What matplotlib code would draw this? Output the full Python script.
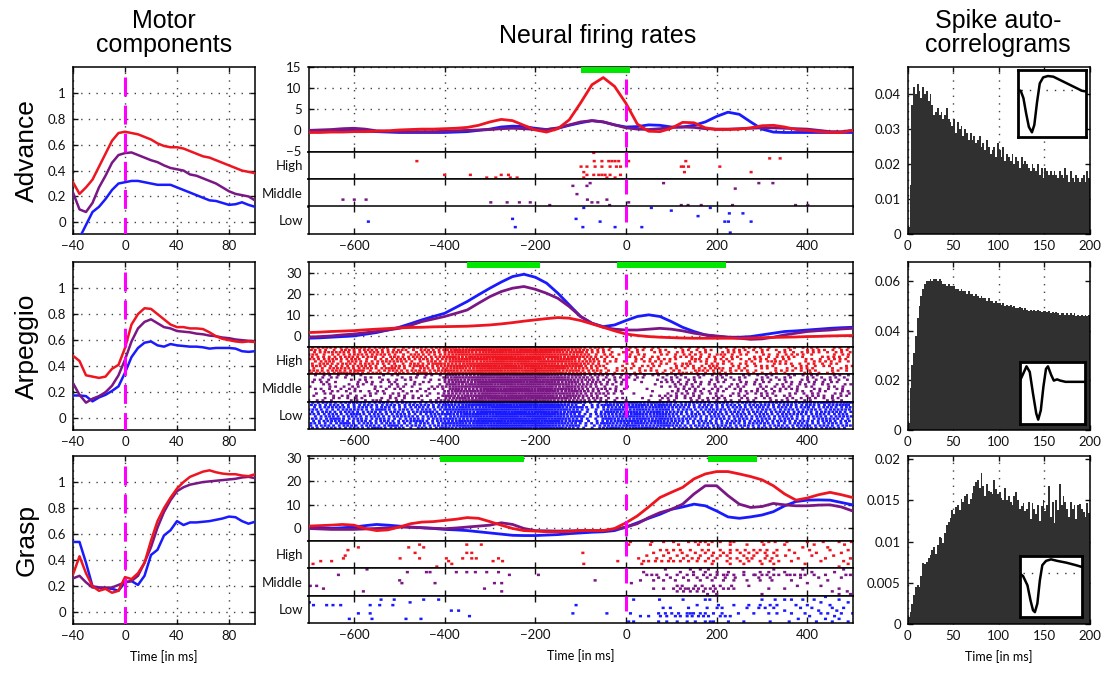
import numpy as np
import matplotlib
matplotlib.use('Agg')
import matplotlib.pyplot as plt
from matplotlib.ticker import FuncFormatter
from matplotlib.transforms import blended_transform_factory
from matplotlib.patches import Rectangle
from matplotlib.collections import LineCollection

# ---------------- data ----------------
ROW_NAMES = ['Advance', 'Arpeggio', 'Grasp']
BAND_NAMES = ['High', 'Middle', 'Low']

# Motor components (x every 5 ms from -40 to 100)
T_MOTOR = np.arange(-40, 101, 5)
MOTOR_RED = [
    [0.31,0.22,0.27,0.33,0.43,0.53,0.63,0.69,0.70,0.69,0.68,0.66,0.64,0.61,0.59,0.58,0.58,0.57,0.55,0.53,0.51,0.50,0.48,0.46,0.44,0.42,0.40,0.39,0.38],
    [0.48,0.44,0.33,0.32,0.31,0.32,0.38,0.41,0.54,0.72,0.80,0.845,0.84,0.80,0.76,0.72,0.70,0.70,0.69,0.69,0.685,0.66,0.63,0.61,0.60,0.59,0.585,0.59,0.585],
    [0.29,0.43,0.30,0.20,0.165,0.18,0.15,0.165,0.27,0.255,0.30,0.38,0.55,0.70,0.80,0.88,0.95,1.00,1.04,1.06,1.08,1.09,1.075,1.065,1.06,1.06,1.05,1.045,1.06],
]
MOTOR_PURPLE = [
    [0.23,0.10,0.08,0.15,0.27,0.36,0.46,0.52,0.535,0.54,0.52,0.50,0.48,0.465,0.44,0.42,0.41,0.40,0.37,0.36,0.34,0.32,0.30,0.27,0.24,0.22,0.21,0.20,0.17],
    [0.27,0.18,0.12,0.15,0.17,0.20,0.25,0.33,0.45,0.59,0.69,0.74,0.76,0.73,0.70,0.69,0.67,0.665,0.66,0.65,0.645,0.635,0.63,0.62,0.615,0.605,0.60,0.595,0.59],
    [0.26,0.28,0.23,0.19,0.19,0.19,0.19,0.21,0.23,0.24,0.28,0.38,0.50,0.65,0.77,0.86,0.93,0.96,0.98,0.99,1.00,1.005,1.01,1.015,1.02,1.025,1.035,1.04,1.03],
]
MOTOR_BLUE = [
    [-0.25,-0.12,-0.02,0.08,0.12,0.18,0.25,0.30,0.31,0.32,0.32,0.31,0.30,0.29,0.29,0.29,0.27,0.25,0.23,0.21,0.19,0.17,0.165,0.15,0.135,0.14,0.155,0.135,0.12],
    [0.175,0.175,0.17,0.13,0.16,0.18,0.21,0.245,0.35,0.47,0.54,0.58,0.59,0.56,0.55,0.57,0.56,0.555,0.55,0.55,0.545,0.535,0.54,0.54,0.54,0.535,0.515,0.51,0.515],
    [0.54,0.54,0.38,0.20,0.19,0.185,0.18,0.165,0.23,0.24,0.21,0.28,0.44,0.48,0.59,0.63,0.70,0.67,0.69,0.69,0.695,0.70,0.71,0.72,0.735,0.73,0.70,0.68,0.695],
]

# Neural firing rates (x every 25 ms from -700 to 500)
T_RATE = np.arange(-700, 501, 25)
RATE_RED = [
    [-0.5,-0.5,-0.4,-0.4,-0.3,-0.3,-0.2,-0.1,0.1,0.2,0.3,0.3,0.4,0.5,0.7,1.2,2.0,2.6,2.3,1.2,0.1,-0.4,0.4,2.5,6.5,10.8,12.5,10.4,6.4,1.5,-0.2,-0.3,0.5,1.9,1.8,0.6,0.2,0.2,0.3,0.6,1.1,1.2,0.8,0.2,0.0,-0.3,-0.5,-0.5,0.0],
    [1.6,1.8,2.1,2.3,2.5,2.9,3.2,3.5,3.8,4.0,4.1,4.3,4.4,4.5,4.6,4.9,5.2,5.7,6.3,7.0,7.6,8.2,8.7,8.4,7.3,5.7,4.1,2.4,0.9,0.2,-0.3,-0.6,-0.8,-1.0,-1.1,-1.1,-1.1,-1.1,-1.1,-1.0,-0.8,-0.7,-0.6,-0.5,-0.3,-0.2,0.0,0.1,0.2],
    [1.0,1.2,1.4,1.7,1.4,0.0,-0.9,-0.6,0.6,2.0,2.7,2.9,3.4,3.9,4.6,4.3,2.9,1.4,0.0,-0.9,-1.1,-1.4,-1.4,-1.3,-0.9,-0.9,-0.9,0.0,2.4,5.3,9.1,13.1,15.3,17.4,21.0,23.1,24.1,24.1,23.1,22.0,20.6,18.1,14.6,12.0,12.9,14.3,15.3,14.3,13.1],
]
RATE_PURPLE = [
    [0.0,0.1,0.2,0.4,0.5,0.3,-0.1,-0.2,-0.3,-0.3,-0.3,-0.3,-0.2,-0.1,0.0,0.1,0.2,0.4,0.5,0.4,0.2,0.2,0.6,1.3,2.0,2.3,2.0,1.3,0.6,0.3,0.2,0.4,0.7,0.8,0.7,0.4,0.3,0.3,0.4,0.5,0.6,0.6,0.5,0.4,0.3,0.0,-0.3,-0.3,0.0],
    [-0.6,-0.3,0.0,0.5,0.9,1.5,2.1,2.8,3.6,5.0,6.8,8.0,9.2,10.7,12.3,15.5,18.6,21.0,22.6,23.4,22.1,20.2,17.8,13.9,9.2,6.0,4.1,3.2,2.8,2.8,3.2,3.6,3.2,2.4,1.3,0.5,0.0,-0.6,-1.1,-1.6,-1.4,-0.6,0.5,1.3,2.1,2.5,2.8,3.3,3.6],
    [0.0,-0.2,-0.4,-0.4,-0.4,-0.2,0.0,0.3,0.6,0.5,0.3,0.1,-0.1,0.2,0.6,1.0,1.4,2.4,1.7,0.0,-0.9,-1.0,-1.1,-1.0,-0.9,-0.9,-0.9,-0.4,0.6,2.0,4.6,6.7,8.1,10.3,14.6,18.1,18.1,13.9,10.3,8.9,9.3,10.6,10.0,9.6,9.6,9.9,10.0,9.1,7.4],
]
RATE_BLUE = [
    [-0.4,-0.2,0.0,0.1,0.0,-0.2,-0.3,-0.4,-0.5,-0.5,-0.5,-0.5,-0.5,-0.4,-0.3,0.0,0.3,0.8,1.0,0.9,0.5,0.2,0.5,1.2,1.8,2.3,2.0,1.3,0.8,0.9,1.3,1.2,0.8,0.8,1.2,2.0,3.3,4.3,3.8,2.0,0.3,-0.4,-0.5,-0.5,-0.5,-0.5,-0.5,-0.5,-0.5],
    [-1.1,-0.9,-0.6,-0.3,0.0,0.8,1.6,2.8,4.1,5.8,7.6,9.2,10.7,13.5,16.3,19.5,22.6,25.5,28.1,29.2,27.8,25.0,20.2,14.7,9.2,6.0,4.4,5.2,7.3,9.2,10.0,9.2,6.8,4.1,2.1,0.5,-0.3,-0.6,-0.6,-0.3,0.5,1.3,2.1,2.4,2.8,3.2,3.6,3.9,4.1],
    [0.6,0.3,0.0,0.3,0.6,1.2,1.7,1.4,1.0,0.6,0.3,0.0,-0.4,-0.6,-0.9,-1.4,-1.9,-2.4,-2.9,-3.0,-3.0,-2.8,-2.6,-2.2,-1.9,-1.6,-1.4,-0.9,0.6,2.4,4.3,6.0,8.1,9.1,10.3,9.6,7.4,4.9,4.3,4.9,5.7,7.1,9.6,11.4,12.0,12.1,12.0,11.0,10.0],
]
RATE_YLIM = [(-5, 15), (-5, 35), (-5.1, 30.7)]
RATE_YTICKS = [[-5, 0, 5, 10, 15], [0, 10, 20, 30], [0, 10, 20, 30]]
SIG_BARS = [[(-100, 10)], [(-350, -190), (-20, 220)], [(-410, -225), (180, 290)]]

# Sparse rasters: spike times (ms) per trial row (row 0 = bottom of band)
ADV_HIGH = [
    [-307, -287, -255, -240, -93, -42, -24],
    [-400, -343, -275, -259, -86, -71, -60, -53, -46, -35, -12],
    [-93, 129, 276], [],
    [-99, -86, -68, -53, -35, -21, -12, 122, 127, 138, 207], [],
    [-461, -70, -53, -38, -31, -24, -16, 6, 132],
    [317, 340], [], [-71],
]
ADV_MID = [
    [-168, -36, 122, 137, 166, 235, 374, 401],
    [-298, -262, -235, -211, -75, -62, 6],
    [-624, -599, -573, -85, -42], [], [-108], [], [241],
    [-117, -86], [-79, 83, 293, 324], [],
]
ADV_LOW = [
    [230], [], [-244, -95, -24, 35], [],
    [-568, -57, 218, 226, 276], [-250, -110], [159],
    [228, 258], [100], [-93, 56, 186],
]
GRASP_HIGH = [
    [-417, 470],
    [-690, -384, -93, 35, 190, 230, 260, 300, 326, 395, 490],
    [-673, -649, -391, -293, -272, -18, 39, 50, 65, 79, 94, 105, 120, 138, 157, 175, 193, 223, 252, 271, 296, 318, 337, 365, 430, 480],
    [-623, -498, -455, -396, -360, -340, -330, -281, 28, 68, 98, 127, 146, 160, 182, 201, 230, 245, 267, 278, 307, 322, 380, 440, 495],
    [-619, 46, 83, 113, 135, 164, 190, 208, 223, 260, 282, 311, 333, 352, 410, 458],
    [-465, -351, -340, -95, 61, 94, 124, 153, 175, 193, 215, 230, 252, 271, 289, 307, 326, 372, 420, 475],
    [-613, 76, 90, 105, 120, 142, 168, 182, 208, 230, 245, 263, 282, 296, 311, 333, 360, 405, 450, 490],
    [-590, -479, -446, 390, 445],
    [-455, -351, -319, 6, 54, 116, 160, 182, 230, 267, 304, 350, 415, 482],
    [10, 57, 83, 105, 138, 153, 164, 175, 190, 208, 230, 238, 300, 315, 329, 355, 400, 435, 470, 497],
]
GRASP_MID = [
    [180, 200, 300, 470, 495],
    [-579, -274, 113, 127, 142, 157, 171, 193, 455, 488],
    [-667, -312, 61, 83, 105, 120, 131, 138, 149, 160, 175, 186, 197, 215, 226, 238, 315, 350, 470],
    [-696, -682, 113, 124, 153, 168, 193, 208, 233, 271, 378, 430],
    [-494, -421, -290, -274, 12, 400],
    [-499, -68, 32, 61, 83, 109, 138, 164, 190, 215, 238, 267, 296, 322, 365, 445],
    [72, 98, 127, 157, 179, 197, 219, 241, 293, 318, 385, 425, 475],
    [-634, -257, -193, 46, 57, 68, 90, 113, 135, 149, 171, 186, 201, 215, 223, 238, 260, 282, 285, 300, 311, 326, 337, 355, 362, 372, 385, 395, 415, 440, 485, 495],
    [-482, -440, -432, -374, -351, -332, -307, -281, 39, 120, 149, 175, 201, 226, 260, 296, 315, 350, 410, 460],
    [-571, 87, 142, 164, 182, 326, 390, 480],
]
GRASP_LOW = [
    [6, 17, 72, 90, 113, 135, 153, 175, 186, 193, 226, 260, 318, 360, 420, 455, 490],
    [-610, -560, -485, -452, 380, 440, 470],
    [-345, 32, 50, 76, 90, 109, 120, 135, 146, 160, 171, 182, 208, 219, 230, 405, 460],
    [-590, -564, -117, -42, 10, 72, 87, 101, 116, 135, 142, 149, 164, 175, 193, 212, 248, 282, 315, 333, 365, 395, 430, 445, 475, 500],
    [-385, -369, 350, 425, 465],
    [82, 98, 138, 179, 201, 212, 267, 293, 307, 326, 385, 410, 455, 480],
    [-689, -660, -646, -629, -564, -543, -514, -110, 157, 204, 238, 271, 296, 318, 333, 375, 400, 450],
    [-698, -476, 430, 490],
    [-540, -511, -446, -413, 17, 74, 126, 175, 185, 300, 329, 350, 365, 390, 415, 470],
    [440],
]
# Dense raster (Arpeggio): spike counts per 25-ms bin, one string per trial row
ARP_HIGH = [
    "232432313242 344545545443 3221 12021321220212102120",
    "323241232323 434554455534 2312 02212032122102212021",
    "213323242132 343455545453 3211 21102122312021122012",
    "322232132423 444545454544 2301 12202213021220121202",
    "132323221324 334555455434 3210 20121302212102212120",
    "231322332132 443454545543 3221 12210221202132012212",
    "323231223232 344545555344 2311 02122031221221202122",
    "222323132323 434455454534 3220 21202212120212210221",
    "312232321322 344555545443 3121 12021221312021221012",
    "233223231232 443454555434 2211 20212120221202122121",
    "321323223132 344545454543 3220 12120212022121202212",
    "232232312323 434555545544 2311 21202120212210212021",
]
ARP_MID = [
    "121021312012 334545554433 3221 10112022121202212021",
    "012120121201 343455545543 2312 01021212202120212120",
    "201212012120 434554555434 3210 00122120212021202212",
    "120102121012 333545455443 2321 10012212021220212021",
    "012121201210 344455554534 3212 00102121202212021202",
    "211201120121 433545545443 2321 01002212120212202120",
    "102120212102 344554555434 3211 10012120212021212021",
    "020121021201 434545454543 3221 00102212021202121202",
    "121012120120 343555545434 2312 01022121202120212120",
    "210120212012 434455554543 3221 10121202120212021212",
    "012102101210 344545455443 3212 12012120212021202121",
    "121210120121 433554545434 2321 21212021202120212021",
]
ARP_LOW = [
    "323232423132 434545554543 2134 34432323232232323232",
    "232323242323 344455545434 1233 43343232323223232323",
    "322423232232 443545455443 2243 34343223232332232232",
    "233232323423 344554554534 1234 43433232232323232323",
    "324232322323 433545545443 2143 34343322323232322332",
    "232323233232 344455455434 1334 43432323232323223233",
    "323242323223 434545554543 2233 34343232323232332323",
    "232323232342 343554545434 1243 43433223232323232332",
    "322332423232 444545455443 2134 34342323323232323233",
    "233232322323 343455545534 2233 43433232232323232323",
    "323223232332 434545454543 1243 34343323232332323234",
    "232332323223 344554554434 2134 43432332323233333434",
]
# per-row shift (ms) of the 25-ms bin grid, so trial rows do not line up
ARP_ROW_SHIFT = [0, 11, 5, 17, 8, 21, 3, 14, 9, 19, 6, 15]

# Spike auto-correlograms (2 ms bins, 0-200 ms)
HIST_T = np.arange(1, 200, 2)
HIST = [
    [0.002,0.014,0.037,0.042,0.040, 0.043,0.041,0.039,0.042,0.040, 0.041,0.038,0.040,0.037,0.034, 0.035,0.036,0.034,0.035,0.033,
     0.034,0.036,0.033,0.032,0.031, 0.033,0.029,0.032,0.030,0.031, 0.028,0.030,0.029,0.027,0.029, 0.027,0.028,0.026,0.027,0.028,
     0.025,0.026,0.024,0.027,0.025, 0.023,0.024,0.025,0.022,0.026, 0.024,0.022,0.025,0.021,0.023, 0.022,0.021,0.023,0.020,0.022,
     0.021,0.019,0.022,0.020,0.021, 0.020,0.019,0.018,0.020,0.019, 0.018,0.020,0.017,0.019,0.016, 0.019,0.018,0.017,0.018,0.017,
     0.018,0.017,0.016,0.018,0.017, 0.016,0.019,0.017,0.015,0.018, 0.016,0.015,0.017,0.016,0.015, 0.016,0.017,0.015,0.018,0.016],
    [0.003,0.017,0.026,0.031,0.038, 0.045,0.050,0.054,0.057,0.059, 0.060,0.060,0.061,0.060,0.061, 0.061,0.060,0.061,0.060,0.059,
     0.059,0.058,0.059,0.058,0.058, 0.058,0.057,0.057,0.056,0.057, 0.056,0.056,0.055,0.056,0.055, 0.055,0.054,0.055,0.054,0.053,
     0.054,0.053,0.053,0.052,0.053, 0.052,0.052,0.051,0.052,0.051, 0.051,0.0505,0.051,0.050,0.0505, 0.050,0.0505,0.0495,0.050,0.049,
     0.049,0.0495,0.049,0.0485,0.049, 0.0485,0.048,0.0485,0.048,0.0485, 0.048,0.0485,0.048,0.0475,0.048, 0.048,0.0475,0.048,0.047,0.0475,
     0.047,0.0475,0.047,0.0465,0.047, 0.047,0.0465,0.047,0.0465,0.047, 0.0465,0.047,0.046,0.0465,0.046, 0.0465,0.046,0.0465,0.046,0.0465],
    [0.0008,0.0015,0.0024,0.0035,0.0045, 0.0047,0.0045,0.0058,0.0074,0.0073, 0.0075,0.0080,0.0084,0.0090,0.0093, 0.0085,0.0096,0.0106,0.0104,0.0098,
     0.0110,0.0120,0.0124,0.0129,0.0138, 0.0134,0.0142,0.0144,0.0139,0.0152, 0.0148,0.0155,0.0158,0.0146,0.0152, 0.0159,0.0168,0.0172,0.0175,0.0165,
     0.0183,0.0168,0.0156,0.0170,0.0162, 0.0160,0.0158,0.0175,0.0164,0.0158, 0.0160,0.0153,0.0150,0.0165,0.0150, 0.0156,0.0148,0.0145,0.0155,0.0160,
     0.0150,0.0140,0.0143,0.0147,0.0137, 0.0140,0.0148,0.0128,0.0147,0.0140, 0.0133,0.0145,0.0125,0.0143,0.0150, 0.0137,0.0145,0.0168,0.0130,0.0148,
     0.0123,0.0150,0.0138,0.0170,0.0145, 0.0155,0.0148,0.0140,0.0130,0.0148, 0.0140,0.0145,0.0128,0.0145,0.0146, 0.0140,0.0136,0.0130,0.0147,0.0135],
]
HIST_YLIM = [0.0478, 0.0677, 0.0204]
HIST_YTICKS = [[0, 0.01, 0.02, 0.03, 0.04], [0, 0.02, 0.04, 0.06], [0, 0.005, 0.01, 0.015, 0.02]]

# Spike waveforms in insets (normalised box coordinates)
WAVE_X = [
    [0, 0.04, 0.08, 0.12, 0.16, 0.205, 0.24, 0.28, 0.32, 0.37, 0.44, 0.52, 0.62, 0.72, 0.82, 0.94, 1.0],
    [0, 0.04, 0.10, 0.15, 0.20, 0.25, 0.28, 0.32, 0.36, 0.40, 0.43, 0.48, 0.52, 0.57, 0.62, 0.70, 1.0],
    [0, 0.05, 0.12, 0.17, 0.21, 0.24, 0.28, 0.32, 0.36, 0.42, 0.50, 0.60, 0.75, 0.90, 1.0],
]
WAVE_Y = [
    [0.70, 0.69, 0.58, 0.35, 0.15, 0.07, 0.18, 0.52, 0.80, 0.89, 0.91, 0.90, 0.85, 0.80, 0.75, 0.69, 0.68],
    [0.70, 0.79, 0.93, 0.84, 0.49, 0.17, 0.07, 0.22, 0.60, 0.89, 0.93, 0.79, 0.70, 0.72, 0.70, 0.68, 0.68],
    [0.71, 0.67, 0.52, 0.27, 0.11, 0.08, 0.22, 0.60, 0.85, 0.92, 0.945, 0.92, 0.89, 0.85, 0.82],
]
WAVE_BASE = [0.70, None, 0.725]

# ---------------- style ----------------
RED, PURPLE, BLUE = '#ee1520', '#7a1785', '#1a1aff'
MAGENTA, GREEN = '#ff00ff', '#00e800'
plt.rcParams.update({
    'font.family': ['Lato', 'DejaVu Sans'],
    'font.size': 9,
    'xtick.direction': 'in', 'ytick.direction': 'in',
    'xtick.top': True, 'ytick.right': True,
    'xtick.major.size': 3.5, 'ytick.major.size': 3.5,
    'xtick.major.width': 1.0, 'ytick.major.width': 1.0,
    'xtick.major.pad': 4, 'ytick.major.pad': 5,
    'axes.linewidth': 1.1,
    'xtick.labelsize': 9.5, 'ytick.labelsize': 9.5,
    'xtick.color': '#111111', 'ytick.color': '#111111',
})
GRID = dict(linestyle=(0, (1, 4.5)), color='#444444', linewidth=1.0)

W, H = 1105, 674
fig = plt.figure(figsize=(W / 100, H / 100), dpi=100)


def rect(x0, y0, x1, y1):
    return [x0 / W, 1 - y1 / H, (x1 - x0) / W, (y1 - y0) / H]


gfmt = FuncFormatter(lambda v, p: '%g' % v)
ROWS_Y = [(67, 234), (262, 430), (456, 624)]
MID_X0, MID_X1 = 308.5, 852.7
LINE_H = 84.5
BAND_H = (ROWS_Y[0][1] - ROWS_Y[0][0] - LINE_H) / 3.0
TITLE_FONT = 'Liberation Sans'

for i in range(3):
    y0, y1 = ROWS_Y[i]
    # ---- left: motor components ----
    ax = fig.add_axes(rect(73, y0, 255, y1))
    ax.plot(T_MOTOR, MOTOR_BLUE[i], color=BLUE, lw=1.8, zorder=3)
    ax.plot(T_MOTOR, MOTOR_PURPLE[i], color=PURPLE, lw=1.8, zorder=3)
    ax.plot(T_MOTOR, MOTOR_RED[i], color=RED, lw=1.8, zorder=3)
    ax.set_xlim(-40, 100)
    ax.set_ylim(-0.09, 1.2)
    ax.set_xticks([-40, 0, 40, 80])
    ax.set_yticks([0, 0.2, 0.4, 0.6, 0.8, 1])
    ax.yaxis.set_major_formatter(gfmt)
    ax.grid(True, **GRID)
    ax.plot([0, 0], [1.12, -0.09], color=MAGENTA, lw=2.2, dashes=(6.2, 3.0), zorder=5)
    ax.text(-0.255, 0.5, ROW_NAMES[i], transform=ax.transAxes, rotation=90,
            ha='center', va='center', fontsize=19, family=TITLE_FONT)
    if i == 2:
        ax.set_xlabel('Time [in ms]', fontsize=9, labelpad=6)

    # ---- middle: firing rates ----
    axl = fig.add_axes(rect(MID_X0, y0, MID_X1, y0 + LINE_H))
    axl.plot(T_RATE, RATE_BLUE[i], color=BLUE, lw=2.0, zorder=3)
    axl.plot(T_RATE, RATE_PURPLE[i], color=PURPLE, lw=2.0, zorder=3)
    axl.plot(T_RATE, RATE_RED[i], color=RED, lw=2.0, zorder=3)
    axl.set_xlim(-700, 500)
    axl.set_ylim(*RATE_YLIM[i])
    axl.set_xticks([-600, -400, -200, 0, 200, 400])
    axl.set_yticks(RATE_YTICKS[i])
    axl.tick_params(axis='x', labelbottom=False)
    axl.grid(True, **GRID)
    tr = blended_transform_factory(axl.transData, axl.transAxes)
    for (a, b) in SIG_BARS[i]:
        axl.add_patch(Rectangle((a, 0.925), b - a, 0.075, transform=tr,
                                color=GREEN, lw=0, zorder=4, clip_on=False))
    axl.plot([0, 0], [0.86, 0.0], transform=tr, color=MAGENTA, lw=2.2,
             dashes=(5, 3.6), zorder=5)

    bands_data = {0: (ADV_HIGH, ADV_MID, ADV_LOW),
                  1: (ARP_HIGH, ARP_MID, ARP_LOW),
                  2: (GRASP_HIGH, GRASP_MID, GRASP_LOW)}[i]
    colors = (RED, PURPLE, BLUE)
    for b in range(3):
        by0 = y0 + LINE_H + b * BAND_H
        axb = fig.add_axes(rect(MID_X0, by0, MID_X1, by0 + BAND_H))
        axb.set_xlim(-700, 500)
        axb.set_ylim(0, 1)
        axb.set_xticks([-600, -400, -200, 0, 200, 400])
        axb.set_yticks([0.5])
        axb.set_yticklabels([BAND_NAMES[b]])
        axb.tick_params(axis='y', length=0, pad=4)
        axb.tick_params(axis='x', length=4)
        rows = bands_data[b]
        n = len(rows)
        segs = []
        for r, item in enumerate(rows):
            if isinstance(item, str):
                s = item.replace(' ', '')
                shift = ARP_ROW_SHIFT[r % len(ARP_ROW_SHIFT)]
                ts = []
                for k, ch in enumerate(s):
                    c = int(ch)
                    for j in range(c):
                        ts.append(-700 - 12 + shift + 25 * k + (j + 0.5) * 25.0 / c)
                ts = [t for t in ts if -700 <= t <= 500]
                half = 3.2
            else:
                ts = item
                half = 3.4
            yy = (r + 0.5) / n
            segs.extend([[(t - half, yy), (t + half, yy)] for t in ts])
        lwid = 1.7 if n > 10 else 1.8
        axb.add_collection(LineCollection(segs, colors=colors[b], linewidths=lwid,
                                          capstyle='butt', snap=False, zorder=2))
        axb.plot([0, 0], [1.0, 0.45], color=MAGENTA, lw=2.2, zorder=5,
                 solid_capstyle='butt')
        if b < 2:
            axb.tick_params(axis='x', labelbottom=False)
        elif i == 2:
            axb.set_xlabel('Time [in ms]', fontsize=9, labelpad=6)

    # ---- right: auto-correlograms ----
    axr = fig.add_axes(rect(907.7, y0, 1090, y1))
    axr.bar(HIST_T, HIST[i], width=2.0, color='#303030', linewidth=0, zorder=2)
    axr.set_xlim(0, 200)
    axr.set_ylim(0, HIST_YLIM[i])
    axr.set_xticks([0, 50, 100, 150, 200])
    axr.set_yticks(HIST_YTICKS[i])
    axr.yaxis.set_major_formatter(gfmt)
    axr.set_axisbelow(True)
    axr.grid(True, axis='x', **GRID)
    if i == 2:
        axr.set_xlabel('Time [in ms]', fontsize=9, labelpad=6)

    inset_px = [(1018, 70, 1086, 137), (1020, 362, 1085, 424), (1020, 556, 1082, 617)][i]
    axi = fig.add_axes(rect(*inset_px))
    axi.set_facecolor('white')
    for sp in axi.spines.values():
        sp.set_linewidth(2.0)
    axi.set_xticks([]); axi.set_yticks([])
    axi.tick_params(top=False, right=False)
    axi.set_xlim(0, 1); axi.set_ylim(0, 1)
    if WAVE_BASE[i] is not None:
        axi.plot([0.05, 0.95], [WAVE_BASE[i]] * 2, color='#333333', lw=1.0,
                 linestyle=(0, (1, 5)))
    axi.plot(WAVE_X[i], WAVE_Y[i], color='black', lw=1.8)

# ---- column titles ----
fig.text(164 / W, 1 - 33 / H, 'Motor\ncomponents', ha='center', va='center',
         fontsize=18, family=TITLE_FONT, linespacing=1.0)
fig.text(598 / W, 1 - 36 / H, 'Neural firing rates', ha='center', va='center',
         fontsize=18, family=TITLE_FONT)
fig.text(998 / W, 1 - 33 / H, 'Spike auto-\ncorrelograms', ha='center', va='center',
         fontsize=18, family=TITLE_FONT, linespacing=1.0)

fig.savefig('out.png', dpi=100)
